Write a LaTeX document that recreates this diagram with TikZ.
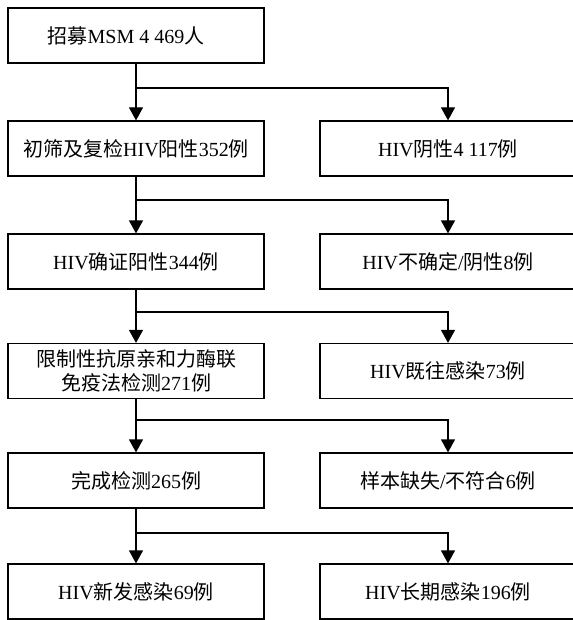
\documentclass[tikz,border=0pt]{standalone}
\usepackage{fontspec}
\setmainfont{Liberation Serif}
\newfontfamily\cjk{Noto Sans CJK SC}
\usetikzlibrary{arrows.meta}
\newcommand{\zh}[1]{{\cjk #1}}

\begin{document}
\begin{tikzpicture}[x=0.5pt,y=-0.5pt,
        box/.style={draw,line width=0.6pt,minimum width=128pt,minimum height=27.5pt,
            inner sep=2pt,align=center,font=\fontsize{10}{12}\selectfont},
        arr/.style={line width=0.6pt,-{Triangle[width=7pt,length=6.5pt]}},
        branch/.style={line width=0.6pt}]
        \useasboundingbox (0,0) rectangle (572,620);
        \node[box] (recruit) at (136,35.5) {\zh{招募}MSM 4 469\zh{人}\hspace*{10pt}};
        \node[box] (screen) at (136,148.5) {\zh{初筛及复检}HIV\zh{阳性}352\zh{例}};
        \node[box] (negative) at (448,148.5) {HIV\zh{阴性}4 117\zh{例}};
        \node[box] (confirm) at (136,261.5) {HIV\zh{确证阳性}344\zh{例}};
        \node[box] (uncertain) at (448,261.5) {HIV\zh{不确定}/\zh{阴性}8\zh{例}};
        \node[box] (lagavidity) at (136,371) {\zh{限制性抗原亲和力酶联}\\\zh{免疫法检测}271\zh{例}};
        \node[box] (previous) at (448,371) {HIV\zh{既往感染}73\zh{例}};
        \node[box] (tested) at (136,480.5) {\zh{完成检测}265\zh{例}};
        \node[box] (missing) at (448,480.5) {\zh{样本缺失}/\zh{不符合}6\zh{例}};
        \node[box] (recent) at (136,591.5) {HIV\zh{新发感染}69\zh{例}};
        \node[box] (longterm) at (448,591.5) {HIV\zh{长期感染}196\zh{例}};
        \coordinate (split1) at (136,88);
        \coordinate (split2) at (136,200);
        \coordinate (split3) at (136,312);
        \coordinate (split4) at (136,420);
        \coordinate (split5) at (136,533);
        \draw[arr] (recruit) -- (screen);
        \draw[arr] (screen) -- (confirm);
        \draw[arr] (confirm) -- (lagavidity);
        \draw[arr] (lagavidity) -- (tested);
        \draw[arr] (tested) -- (recent);
        \draw[arr] (split1) -| (negative);
        \draw[arr] (split2) -| (uncertain);
        \draw[arr] (split3) -| (previous);
        \draw[arr] (split4) -| (missing);
        \draw[arr] (split5) -| (longterm);
\end{tikzpicture}
\end{document}
